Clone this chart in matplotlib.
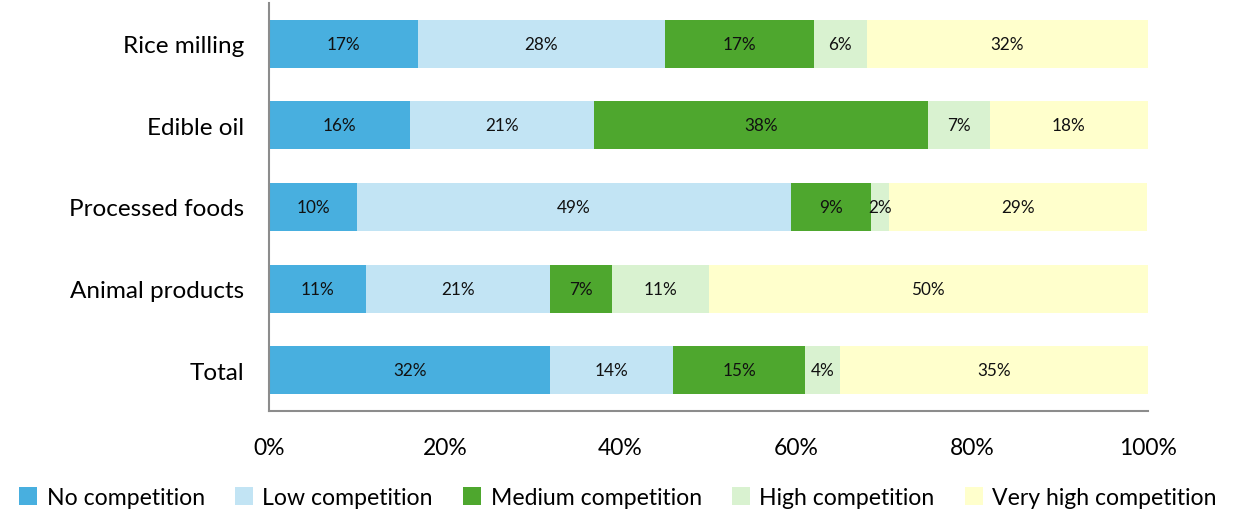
import matplotlib
matplotlib.use("Agg")
import matplotlib.pyplot as plt
from matplotlib.patches import Patch

plt.rcParams['font.family'] = ['Lato', 'DejaVu Sans']

categories = ["Rice milling", "Edible oil", "Processed foods", "Animal products", "Total"]
series_names = ["No competition", "Low competition", "Medium competition",
                "High competition", "Very high competition"]
no_comp = [17, 16, 10, 11, 32]
low_comp = [28, 21, 49.4, 21, 14]
medium_comp = [17, 38, 9.1, 7, 15]
high_comp = [6, 7, 2, 11, 4]
very_high_comp = [32, 18, 29.4, 50, 35]
x_ticks = [0, 20, 40, 60, 80, 100]

colors = ["#48AFDF", "#C2E4F4", "#4EA72E", "#D9F2D0", "#FFFFCC"]
series = [no_comp, low_comp, medium_comp, high_comp, very_high_comp]

fig = plt.figure(figsize=(12.37, 5.10), dpi=100)
ax = fig.add_axes([269 / 1237, 1 - 412 / 510, (1148 - 269) / 1237, 408 / 510])

ypos = list(range(len(categories)))
left = [0.0] * len(categories)
for vals, col in zip(series, colors):
    bars = ax.barh(ypos, vals, left=left, height=0.59, color=col, edgecolor='none')
    for b, v, l in zip(bars, vals, left):
        ax.text(l + v / 2, b.get_y() + b.get_height() / 2, f"{v:.0f}%",
                ha='center', va='center', fontsize=12.3, color='#111111')
    left = [l + v for l, v in zip(left, vals)]

ax.set_ylim(len(categories) - 0.5, -0.5)
ax.set_xlim(0, 100)
ax.set_yticks(ypos)
ax.set_yticklabels(categories, fontsize=17.5)
ax.set_xticks(x_ticks)
ax.set_xticklabels([f"{t}%" for t in x_ticks], fontsize=16.5)
ax.tick_params(axis='both', length=0)
ax.tick_params(axis='x', pad=19)
ax.tick_params(axis='y', pad=18)
for s in ['top', 'right']:
    ax.spines[s].set_visible(False)
for s in ['left', 'bottom']:
    ax.spines[s].set_color('#8C8C8C')
    ax.spines[s].set_linewidth(1.5)

handles = [Patch(facecolor=c, edgecolor='none') for c in colors]
fig.legend(handles, series_names, loc='center', bbox_to_anchor=(0.4995, 0.023),
           ncol=5, frameon=False, fontsize=16.6, handlelength=0.8, handleheight=0.8,
           handletextpad=0.4, columnspacing=1.3, borderaxespad=0)

fig.savefig("out.png", dpi=100)
